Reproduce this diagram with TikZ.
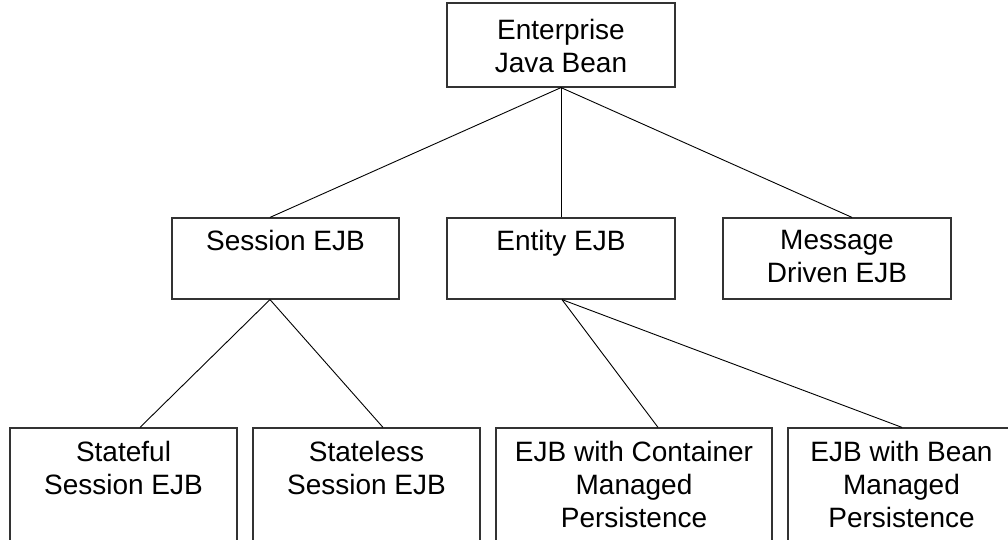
\documentclass[tikz,border=0pt]{standalone}
\usepackage{fontspec}
\setmainfont{Liberation Sans}
\begin{document}
\begin{tikzpicture}[x=1pt,y=-1pt,
  box/.style={draw=black!80, line width=1.2pt, inner sep=0pt, minimum width=227pt},
  lbl/.style={anchor=north, align=center, inner sep=0pt, font=\fontsize{28}{33}\selectfont},
  link/.style={draw=black, line width=0.9pt}]
\clip (0,0) rectangle (1008,540);
\useasboundingbox (0,0) rectangle (1008,540);
% boxes
\node[box, minimum width=228pt, minimum height=84pt] (ejb) at (561,45) {};
\node[box, minimum height=81pt] (ses) at (285.5,258.5) {};
\node[box, minimum width=228pt, minimum height=81pt] (ent) at (561,258.5) {};
\node[box, minimum width=228pt, minimum height=81pt] (msg) at (837,258.5) {};
\node[box, minimum height=140pt] (sf) at (123.5,498) {};
\node[box, minimum height=140pt] (sl) at (366.5,498) {};
\node[box, minimum width=276pt, minimum height=140pt] (cmp) at (634,498) {};
\node[box, minimum height=140pt] (bmp) at (901.5,498) {};
% labels
\node[lbl] (ejbt) at ([yshift=-17pt]ejb.north) {Enterprise\\Java Bean};
\node[lbl] (sest) at ([yshift=-13pt]ses.north) {Session EJB};
\node[lbl] (entt) at ([yshift=-13pt]ent.north) {Entity EJB};
\node[lbl] (msgt) at ([yshift=-13pt]msg.north) {Message\\Driven EJB};
\node[lbl] (sft) at ([yshift=-14pt]sf.north) {Stateful\\Session EJB};
\node[lbl] (slt) at ([yshift=-14pt]sl.north) {Stateless\\Session EJB};
\node[lbl] (cmpt) at ([yshift=-14pt]cmp.north) {EJB with Container\\Managed\\Persistence};
\node[lbl] (bmpt) at ([yshift=-14pt]bmp.north) {EJB with Bean\\Managed\\Persistence};
% connectors
\draw[link] (ejb.south) -- ([xshift=-15.5pt]ses.north);
\draw[link] (ejb.south) -- (ent.north);
\draw[link] (ejb.south) -- ([xshift=15pt]msg.north);
\draw[link] ([xshift=-15.5pt]ses.south) -- ([xshift=16.5pt]sf.north);
\draw[link] ([xshift=-15.5pt]ses.south) -- ([xshift=16.5pt]sl.north);
\draw[link] ([xshift=1pt]ent.south) -- ([xshift=24pt]cmp.north);
\draw[link] ([xshift=1pt]ent.south) -- ([xshift=0.5pt]bmp.north);
\end{tikzpicture}
\end{document}
